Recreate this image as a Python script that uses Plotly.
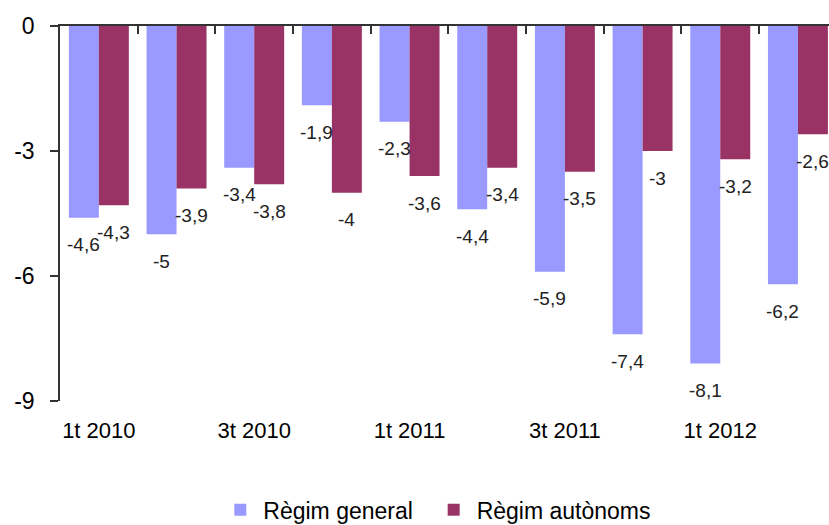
import plotly.graph_objects as go

categories = ["1t 2010", "2t 2010", "3t 2010", "4t 2010", "1t 2011",
              "2t 2011", "3t 2011", "4t 2011", "1t 2012", "2t 2012"]
general = [-4.6, -5, -3.4, -1.9, -2.3, -4.4, -5.9, -7.4, -8.1, -6.2]
autonoms = [-4.3, -3.9, -3.8, -4, -3.6, -3.4, -3.5, -3, -3.2, -2.6]
shown_labels = ["1t 2010", "3t 2010", "1t 2011", "3t 2011", "1t 2012"]
y_ticks = [0, -3, -6, -9]

FONT = "Liberation Sans, Arial, sans-serif"
C_GEN = "#9999FF"
C_AUT = "#993366"
AX = "#333333"

def fmt(v):
    s = f"{v:g}"
    return s.replace(".", ",")

idx = list(range(len(categories)))

fig = go.Figure()
fig.add_trace(go.Bar(x=idx, y=general, name="Règim general\u00a0\u00a0",
                     marker=dict(color=C_GEN, line=dict(width=0))))
fig.add_trace(go.Bar(x=idx, y=autonoms, name="Règim autònoms",
                     marker=dict(color=C_AUT, line=dict(width=0))))

# invisible trace to enable the top axis (zero line with boundary ticks)
fig.add_trace(go.Scatter(x=[-0.5, 9.4], y=[0, 0], xaxis="x2", mode="lines",
                         line=dict(width=0), showlegend=False, hoverinfo="skip"))

annotations = []
for i, v in enumerate(general):
    annotations.append(dict(x=i, y=v, xref="x", yref="y", text=fmt(v),
                            showarrow=False, xshift=-15, yshift=-27,
                            font=dict(family=FONT, size=19, color="#222222")))
for i, v in enumerate(autonoms):
    annotations.append(dict(x=i, y=v, xref="x", yref="y", text=fmt(v),
                            showarrow=False, xshift=15, yshift=-27,
                            font=dict(family=FONT, size=19, color="#222222")))

label_idx = [categories.index(c) for c in shown_labels]

fig.update_layout(
    width=829, height=525,
    margin=dict(l=60, r=0, t=26, b=124, autoexpand=False),
    paper_bgcolor="white", plot_bgcolor="white",
    barmode="group", bargap=0.228, bargroupgap=0,
    font=dict(family=FONT, color="#000000"),
    showlegend=True,
    legend=dict(orientation="h", xref="paper", yref="paper",
                x=0.49, xanchor="center", y=-0.29, yanchor="middle",
                font=dict(family=FONT, size=23, color="#000000"),
                itemwidth=36, tracegroupgap=0),
    xaxis=dict(range=[-0.5, 9.4], tickmode="array", tickvals=label_idx,
               ticktext=shown_labels, showline=False, showgrid=False,
               zeroline=False, ticks="", ticklabelstandoff=14, automargin=False,
               tickfont=dict(family=FONT, size=22, color="#000000")),
    xaxis2=dict(range=[-0.5, 9.4], overlaying="x", side="top", anchor="y",
                showline=True, linecolor=AX, linewidth=1.5, automargin=False,
                tickmode="array", tickvals=[i + 0.5 for i in idx[:-1]],
                ticks="inside", ticklen=8, tickcolor=AX, tickwidth=1.5,
                showticklabels=False, showgrid=False, zeroline=False),
    yaxis=dict(range=[-9, 0], tickmode="array", tickvals=y_ticks,
               ticktext=[str(t) for t in y_ticks],
               showline=True, linecolor=AX, linewidth=1.5, automargin=False,
               ticks="outside", ticklen=8, tickcolor=AX, tickwidth=1.5,
               showgrid=False, zeroline=False, ticklabelstandoff=11,
               tickfont=dict(family=FONT, size=23, color="#000000")),
    annotations=annotations,
)

fig.write_html("out.html",
               config={"displayModeBar": False},
               post_script="document.body.style.margin='0px';"
                           "document.body.style.overflow='hidden';")
